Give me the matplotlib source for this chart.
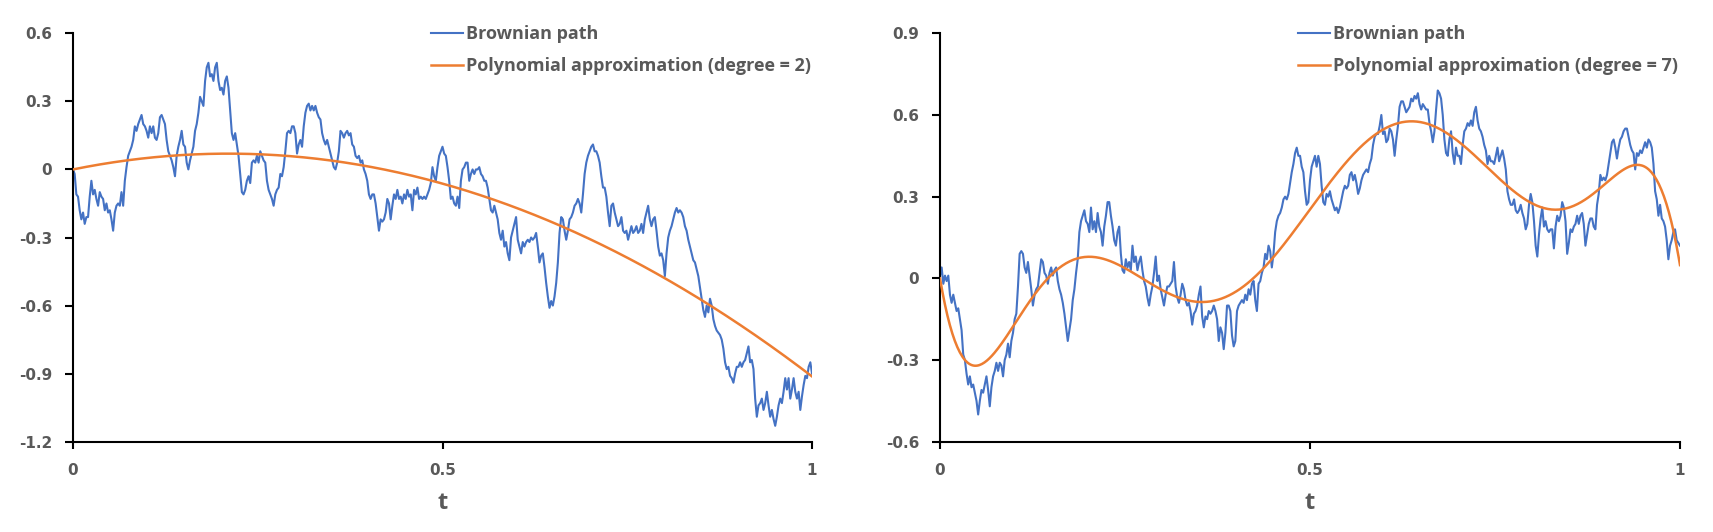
import numpy as np
import matplotlib
matplotlib.use("Agg")
import matplotlib.pyplot as plt

plt.rcParams['axes.unicode_minus'] = False
plt.rcParams['font.family'] = ['Open Sans', 'DejaVu Sans']

# Brownian path (left panel) at even steps in t
path_left = [
    0.00, -0.02, -0.11, -0.12, -0.18, -0.22, -0.19, -0.24, -0.21, -0.21, -0.12,
    -0.05, -0.11, -0.09, -0.13, -0.16, -0.10, -0.12, -0.13, -0.18, -0.15,
    -0.19, -0.18, -0.22, -0.27, -0.19, -0.16, -0.15, -0.16, -0.10, -0.16,
    -0.05, 0.01, 0.06, 0.08, 0.10, 0.13, 0.19, 0.17, 0.20, 0.22,
    0.24, 0.20, 0.19, 0.17, 0.14, 0.19, 0.16, 0.19, 0.14, 0.13,
    0.16, 0.23, 0.24, 0.22, 0.20, 0.13, 0.08, 0.06, 0.04, 0.01,
    -0.03, 0.06, 0.10, 0.13, 0.17, 0.11, 0.10, 0.03, 0.00, 0.04,
    0.07, 0.10, 0.17, 0.20, 0.25, 0.32, 0.30, 0.28, 0.39, 0.45,
    0.47, 0.41, 0.42, 0.39, 0.45, 0.47, 0.39, 0.35, 0.36, 0.33,
    0.39, 0.41, 0.36, 0.26, 0.16, 0.13, 0.16, 0.11, 0.06, -0.02,
    -0.10, -0.11, -0.09, -0.05, -0.03, -0.06, 0.03, 0.04, 0.03, 0.06,
    0.03, 0.08, 0.06, 0.04, 0.03, -0.05, -0.09, -0.11, -0.13, -0.16,
    -0.11, -0.09, -0.08, -0.02, -0.03, 0.01, 0.08, 0.16, 0.17, 0.16,
    0.19, 0.19, 0.16, 0.07, 0.11, 0.13, 0.10, 0.19, 0.25, 0.28,
    0.29, 0.26, 0.28, 0.26, 0.28, 0.25, 0.23, 0.22, 0.16, 0.13,
    0.11, 0.13, 0.10, 0.07, 0.04, 0.01, 0.00, 0.03, 0.08, 0.17,
    0.16, 0.14, 0.16, 0.17, 0.15, 0.16, 0.11, 0.10, 0.06, 0.05,
    0.06, 0.03, 0.04, 0.00, -0.02, -0.05, -0.11, -0.13, -0.11, -0.11,
    -0.15, -0.21, -0.27, -0.22, -0.23, -0.22, -0.19, -0.13, -0.15, -0.22,
    -0.16, -0.11, -0.13, -0.09, -0.13, -0.12, -0.15, -0.11, -0.13, -0.09,
    -0.12, -0.11, -0.18, -0.09, -0.11, -0.08, -0.13, -0.12, -0.13, -0.12,
    -0.13, -0.11,
    -0.09, -0.06, 0.01, -0.03, -0.05, 0.01, 0.06, 0.08,
    0.10, 0.07, 0.06, 0.01, -0.05, -0.13, -0.12, -0.15, -0.16, -0.12,
    -0.17, -0.05, 0.00, 0.01, 0.03, 0.03, -0.05, -0.02, 0.00, -0.02,
    0.00, 0.00, 0.01, -0.02, -0.03, -0.05, -0.05, -0.08, -0.13, -0.18,
    -0.19, -0.16, -0.19, -0.22, -0.28, -0.31, -0.27, -0.34, -0.32, -0.37,
    -0.40, -0.30, -0.27, -0.24, -0.21, -0.31, -0.34, -0.37, -0.32, -0.34,
    -0.32, -0.31, -0.32, -0.30, -0.31, -0.30, -0.28, -0.34, -0.41, -0.38,
    -0.37, -0.43, -0.50, -0.56, -0.61, -0.58, -0.60, -0.56, -0.50, -0.41,
    -0.28, -0.21, -0.22, -0.27, -0.31, -0.27, -0.22, -0.21, -0.19, -0.16,
    -0.15, -0.13, -0.15, -0.19, -0.11, -0.02, 0.03, 0.06, 0.08, 0.10,
    0.11, 0.08, 0.08, 0.06, 0.03, -0.03, -0.08, -0.08, -0.12, -0.19,
    -0.25, -0.16, -0.15, -0.19, -0.22, -0.25, -0.24, -0.21, -0.27, -0.28,
    -0.27, -0.31, -0.28, -0.25, -0.28, -0.27, -0.25, -0.28, -0.27, -0.24,
    -0.28, -0.22, -0.19, -0.16, -0.22, -0.25, -0.22, -0.21, -0.27, -0.34,
    -0.38, -0.37, -0.40, -0.47, -0.37, -0.30, -0.27, -0.25, -0.22, -0.19,
    -0.17, -0.19, -0.18, -0.19, -0.21, -0.25, -0.27, -0.31, -0.34, -0.37,
    -0.40, -0.41, -0.44, -0.47, -0.52, -0.57, -0.62, -0.65, -0.60, -0.63,
    -0.57, -0.60, -0.66, -0.69, -0.71, -0.72, -0.73, -0.75, -0.79, -0.85,
    -0.88, -0.87, -0.91, -0.92, -0.94, -0.90, -0.87, -0.87, -0.85, -0.87,
    -0.85, -0.84, -0.81, -0.78, -0.85, -0.84, -0.88, -1.01, -1.09, -1.04,
    -1.03, -1.01, -1.06, -1.03, -0.98, -1.04, -1.09, -1.06, -1.10, -1.13,
    -1.09, -1.04, -1.01, -1.03, -0.98, -0.92, -0.97, -0.92, -1.01, -0.97,
    -0.92, -0.98, -1.01, -0.98, -1.06, -1.00, -0.95, -0.91, -0.92, -0.87,
    -0.85, -0.90,
]

# Brownian path (right panel)
path_right = [
    0.01, 0.04, -0.02, 0.01, -0.01, 0.01, -0.06, -0.09, -0.06, -0.09,
    -0.12, -0.11, -0.15, -0.19, -0.28, -0.30, -0.35, -0.39, -0.36, -0.40,
    -0.39, -0.42, -0.45, -0.50, -0.45, -0.41, -0.42, -0.39, -0.36, -0.41,
    -0.47, -0.40, -0.36, -0.34, -0.31, -0.34, -0.31, -0.32, -0.36, -0.30,
    -0.28, -0.24, -0.29, -0.23, -0.20, -0.15, -0.13, -0.03, 0.09, 0.10,
    0.09, 0.04, 0.02, 0.06, 0.01, -0.04, -0.10, -0.06, -0.04, -0.03,
    0.02, 0.07, 0.06, 0.02, 0.01, -0.02, 0.02, 0.04, 0.01, 0.03,
    0.04, -0.01, -0.04, -0.06, -0.09, -0.13, -0.18, -0.23, -0.19, -0.15,
    -0.08, -0.04, 0.02, 0.07, 0.17, 0.21, 0.23, 0.25, 0.21, 0.20,
    0.17, 0.26, 0.18, 0.21, 0.17, 0.24, 0.19, 0.17, 0.12, 0.19,
    0.23, 0.28, 0.28, 0.23, 0.19, 0.14, 0.12, 0.17, 0.19, 0.09,
    0.03, 0.02, 0.07, 0.04, 0.06, 0.03, 0.12, 0.06, 0.08, 0.03,
    0.06, 0.08, 0.03, -0.01, -0.03, -0.07, -0.10, -0.06, -0.03, 0.02,
    0.08, -0.01, 0.01, -0.04, -0.07, -0.10, -0.06, -0.03, -0.03, -0.02,
    -0.01, 0.06, -0.03, -0.07, -0.09, -0.06, -0.02, -0.04, -0.08, -0.10,
    -0.09, -0.12, -0.17, -0.13, -0.12, -0.10, -0.06, -0.03, -0.14, -0.18,
    -0.14, -0.15, -0.12, -0.13, -0.12, -0.10, -0.12, -0.15, -0.23, -0.18,
    -0.20, -0.26, -0.20, -0.10, -0.10, -0.12, -0.21, -0.25, -0.23, -0.12,
    -0.10, -0.09, -0.08, -0.09, -0.06, -0.08, -0.04, -0.06, -0.02, -0.01,
    -0.08, -0.12, -0.02, -0.01, 0.02, 0.04, 0.09, 0.07, 0.12, 0.10,
    0.04, 0.09, 0.17, 0.21, 0.23, 0.24, 0.26, 0.29, 0.30, 0.29,
    0.31, 0.35,
    0.39, 0.42, 0.46, 0.48, 0.45, 0.45, 0.41, 0.39, 0.32, 0.27,
    0.28, 0.36, 0.41, 0.43, 0.45, 0.41, 0.45, 0.42, 0.34, 0.28,
    0.27, 0.31, 0.30, 0.32, 0.29, 0.27, 0.25, 0.26, 0.24, 0.26,
    0.29, 0.32, 0.34, 0.33, 0.34, 0.38, 0.39, 0.36, 0.38, 0.35,
    0.31, 0.33, 0.36, 0.38, 0.39, 0.40, 0.39, 0.42, 0.44, 0.49,
    0.52, 0.53, 0.53, 0.56, 0.60, 0.53, 0.54, 0.50, 0.51, 0.55,
    0.54, 0.51, 0.45, 0.51, 0.56, 0.63, 0.65, 0.65, 0.63, 0.61,
    0.62, 0.63, 0.66, 0.65, 0.67, 0.66, 0.68, 0.64, 0.62, 0.64,
    0.63, 0.62, 0.62, 0.57, 0.54, 0.50, 0.54, 0.62, 0.69, 0.68,
    0.66, 0.60, 0.51, 0.46, 0.45, 0.51, 0.54, 0.46, 0.42, 0.48,
    0.45, 0.45, 0.42, 0.49, 0.54, 0.55, 0.57, 0.56, 0.58, 0.56,
    0.61, 0.63, 0.58, 0.55, 0.54, 0.52, 0.49, 0.47, 0.42, 0.45,
    0.43, 0.43, 0.42, 0.45, 0.48, 0.43, 0.45, 0.47, 0.44, 0.40,
    0.32, 0.29, 0.27, 0.27, 0.29, 0.25, 0.24, 0.25, 0.27, 0.24,
    0.22, 0.18, 0.20, 0.27, 0.31, 0.28, 0.21, 0.12, 0.08, 0.16,
    0.22, 0.26, 0.19, 0.21, 0.18, 0.17, 0.18, 0.18, 0.11, 0.19,
    0.23, 0.21, 0.23, 0.28, 0.26, 0.21, 0.09, 0.13, 0.18, 0.17,
    0.19, 0.20, 0.23, 0.20, 0.23, 0.24, 0.20, 0.12, 0.16, 0.20,
    0.22, 0.22, 0.19, 0.18, 0.27, 0.31, 0.38, 0.36, 0.37, 0.36,
    0.38, 0.42, 0.46, 0.50, 0.51, 0.48, 0.44, 0.48, 0.51, 0.52,
    0.54, 0.55, 0.55, 0.52, 0.49, 0.47, 0.46, 0.40, 0.46, 0.45,
    0.47, 0.46, 0.48, 0.50, 0.48, 0.51, 0.50, 0.48, 0.42, 0.32,
    0.29, 0.23, 0.27, 0.22, 0.21, 0.19, 0.14, 0.07, 0.12, 0.14,
    0.17, 0.18, 0.14, 0.13, 0.12,
]

# points (t, value)
trend_left_t = [0.0, 0.082, 0.172, 0.217, 0.263, 0.353, 0.443, 0.5,
                0.578, 0.669, 0.759, 0.849, 0.939, 1.0]
trend_left_v = [0.0, 0.044, 0.067, 0.070, 0.064, 0.034, -0.015, -0.054,
                -0.135, -0.266, -0.415, -0.574, -0.772, -0.903]
trend_right_t = [0.0, 0.009, 0.018, 0.027, 0.036, 0.047, 0.059, 0.072,
                 0.086, 0.099, 0.117, 0.140, 0.162, 0.185, 0.203, 0.225,
                 0.252, 0.275, 0.297, 0.320, 0.356, 0.387, 0.410, 0.432,
                 0.455, 0.482, 0.505, 0.527, 0.550, 0.572, 0.595, 0.617,
                 0.640, 0.662, 0.685, 0.707, 0.730, 0.752, 0.775, 0.797,
                 0.820, 0.838, 0.865, 0.887, 0.910, 0.932, 0.944, 0.955,
                 0.966, 0.977, 0.989, 1.0]
trend_right_v = [0.0, -0.104, -0.202, -0.276, -0.312, -0.324, -0.312,
                 -0.276, -0.227, -0.171, -0.104, -0.031, 0.037, 0.080,
                 0.089, 0.073, 0.031, -0.012, -0.049, -0.070, -0.076,
                 -0.055, -0.024, 0.021, 0.092, 0.190, 0.263, 0.343, 0.410,
                 0.484, 0.551, 0.582, 0.588, 0.569, 0.533, 0.484, 0.429,
                 0.373, 0.324, 0.282, 0.257, 0.251, 0.269, 0.312, 0.373,
                 0.416, 0.426, 0.416, 0.373, 0.300, 0.190, 0.055]

degrees = [2, 7]
y_limits = [(-1.2, 0.6), (-0.6, 0.9)]
y_ticks = [[-1.2, -0.9, -0.6, -0.3, 0, 0.3, 0.6],
           [-0.6, -0.3, 0, 0.3, 0.6, 0.9]]
x_ticks = [0, 0.5, 1]
x_ticklabels = ['0', '0.5', '1']

BLUE = '#4472C4'
ORANGE = '#ED7D31'
GREY = '#595959'
TICK_FONT = {'family': 'DejaVu Sans', 'weight': 'bold', 'size': 11,
             'color': GREY}

W, H = 1713, 532
fig = plt.figure(figsize=(W / 100, H / 100), dpi=100)
# axes boxes in pixels: (left, top, right, bottom)
boxes = [(73, 33.3, 812, 441.7), (940, 33.3, 1680, 441.7)]
legend_xy = [(431, 25), (1298, 25)]


def ylab(v):
    s = f"{v:.1f}"
    if s in ('0.0', '-0.0'):
        return '0'
    return s


def trendline(t, y, deg):
    # polynomial of the given degree through the read points, intercept 0
    t = np.asarray(t)
    A = np.vstack([t ** k for k in range(1, deg + 1)]).T
    coef, *_ = np.linalg.lstsq(A, np.asarray(y), rcond=None)
    return lambda x: sum(c * x ** (k + 1) for k, c in enumerate(coef))


panels = zip([path_left, path_right],
             [(trend_left_t, trend_left_v), (trend_right_t, trend_right_v)],
             degrees, y_limits, y_ticks, boxes, legend_xy)
for path, (ttr, vtr), deg, ylim, yt, box, lxy in panels:
    l, t, r, b = box
    ax = fig.add_axes([l / W, 1 - b / H, (r - l) / W, (b - t) / H])
    vals = np.array(path)
    tt = np.linspace(0, 1, len(vals))
    fit = trendline(ttr, vtr, deg)
    tf = np.linspace(0, 1, 600)

    ax.plot(tt, vals, color=BLUE, lw=1.5, label='Brownian path', zorder=2)
    ax.plot(tf, fit(tf), color=ORANGE, lw=1.8, zorder=3,
            label=f'Polynomial approximation (degree = {deg})')

    ax.set_xlim(0, 1)
    ax.set_ylim(*ylim)
    for s in ('top', 'right'):
        ax.spines[s].set_visible(False)
    for s in ('left', 'bottom'):
        ax.spines[s].set_linewidth(1.5)
        ax.spines[s].set_color('black')
    ax.tick_params(axis='y', length=6, width=1.5, pad=9)
    ax.tick_params(axis='x', length=5, width=1.5, pad=10)
    ax.set_yticks(yt)
    ax.set_yticklabels([ylab(v) for v in yt], fontdict=TICK_FONT)
    ax.set_xticks(x_ticks)
    ax.set_xticklabels(x_ticklabels, fontdict=TICK_FONT)
    ax.set_xlabel('t', fontsize=17, fontweight='bold', color=GREY,
                  labelpad=10)

    leg = ax.legend(loc='upper left',
                    bbox_to_anchor=(lxy[0] / W, 1 - lxy[1] / H),
                    bbox_transform=fig.transFigure, frameon=False,
                    borderpad=0, borderaxespad=0, handlelength=1.75,
                    handletextpad=0.2, labelspacing=0.78,
                    prop={'size': 13, 'weight': 'bold'})
    for txt in leg.get_texts():
        txt.set_color(GREY)

fig.savefig('out.png', dpi=100)
